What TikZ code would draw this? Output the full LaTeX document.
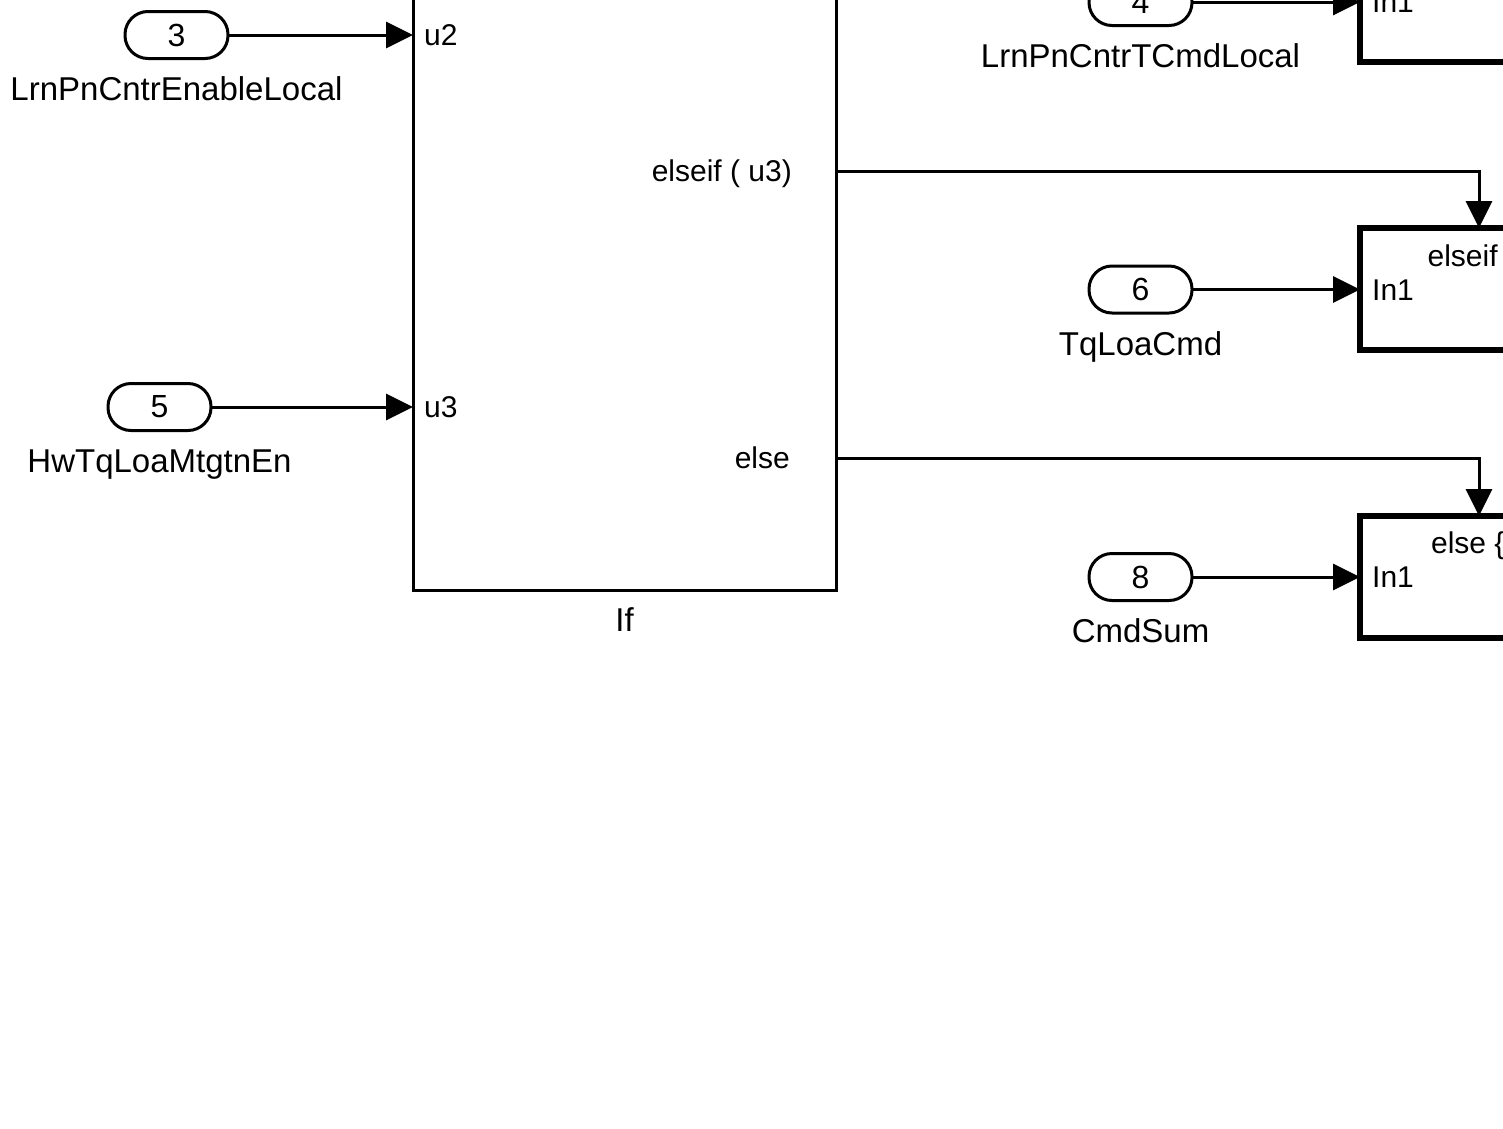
\documentclass[tikz,border=0pt]{standalone}
\usepackage{fontspec}
\setmainfont{Liberation Sans}
\usetikzlibrary{positioning,arrows.meta}
\tikzset{
    wire/.style={draw,line width=3pt,-{Triangle[length=27pt,width=26pt]}},
    inport/.style={draw,line width=3pt,rounded corners=23pt,minimum width=103pt,minimum height=47pt,
        inner sep=0pt,outer sep=0pt,font=\fontsize{32}{38}\selectfont},
    sig/.style={inner sep=0pt,text height=23.5pt,text depth=0pt,font=\fontsize{33}{40}\selectfont},
    port/.style={inner sep=0pt,text height=21.5pt,text depth=0pt,font=\fontsize{30}{36}\selectfont},
    ifblock/.style={draw,line width=3pt,outer sep=0pt,minimum width=423pt,minimum height=680pt},
    action/.style={draw,line width=6pt,outer sep=0pt,minimum width=280pt,minimum height=122pt},
}

\begin{document}
\begin{tikzpicture}[x=1pt,y=-1pt]
    \useasboundingbox (0,0) rectangle (1503,1128);
    \clip (0,0) rectangle (1503,1128);

    % if block
    \node[ifblock] (if) at (624.5,250) {};
    \node[sig,below=30pt of if.south,anchor=center] (ifname) {If};
    \node[port,anchor=west] (u2) at (424,35) {u2};
    \node[port,anchor=west] (u3) at (424,407) {u3};
    \node[port,anchor=east] (elif) at (792,171) {elseif ( u3)};
    \node[port,anchor=east] (els) at (790,458) {else};

    % inports
    \node[inport] (in3) at (176.5,35) {3};
    \node[inport] (in5) at (159.5,407) {5};
    \node[inport] (in4) at (1140.5,2) {4};
    \node[inport] (in6) at (1140.5,289.5) {6};
    \node[inport] (in8) at (1140.5,577) {8};
    \node[sig] (n3) at ([yshift=-54pt]in3.center) {LrnPnCntrEnableLocal};
    \node[sig] (n5) at ([yshift=-54pt]in5.center) {HwTqLoaMtgtnEn};
    \node[sig] (n4) at ([yshift=-54pt]in4.center) {LrnPnCntrTCmdLocal};
    \node[sig] (n6) at ([yshift=-54pt]in6.center) {TqLoaCmd};
    \node[sig] (n8) at ([yshift=-54pt]in8.center) {CmdSum};

    % action subsystems
    \node[action] (act1) at (1500,1) {};
    \node[action] (act2) at (1500,289) {};
    \node[action] (act3) at (1500,577) {};
    \node[port,anchor=west] (a1in) at (1372,2) {In1};
    \node[port,anchor=west] (a2in) at (1372,289.5) {In1};
    \node[port,anchor=west] (a3in) at (1372,577) {In1};
    \node[port] (a2if) at (1481,256) {elseif \{ \}};
    \node[port] (a3if) at (1477,543) {else \{ \}};

    \path
    (in3.east) edge[wire] (in3.east -| if.west)
    (in5.east) edge[wire] (in5.east -| if.west)
    (in4.east) edge[wire] (in4.east -| act1.west)
    (in6.east) edge[wire] (in6.east -| act2.west)
    (in8.east) edge[wire] (in8.east -| act3.west);
    \draw[wire] (if.east |- elif) -| ([xshift=-2pt]act2.north -| a2if);
    \draw[wire] (if.east |- els) -| ([xshift=2pt]act3.north -| a3if);
\end{tikzpicture}
\end{document}
